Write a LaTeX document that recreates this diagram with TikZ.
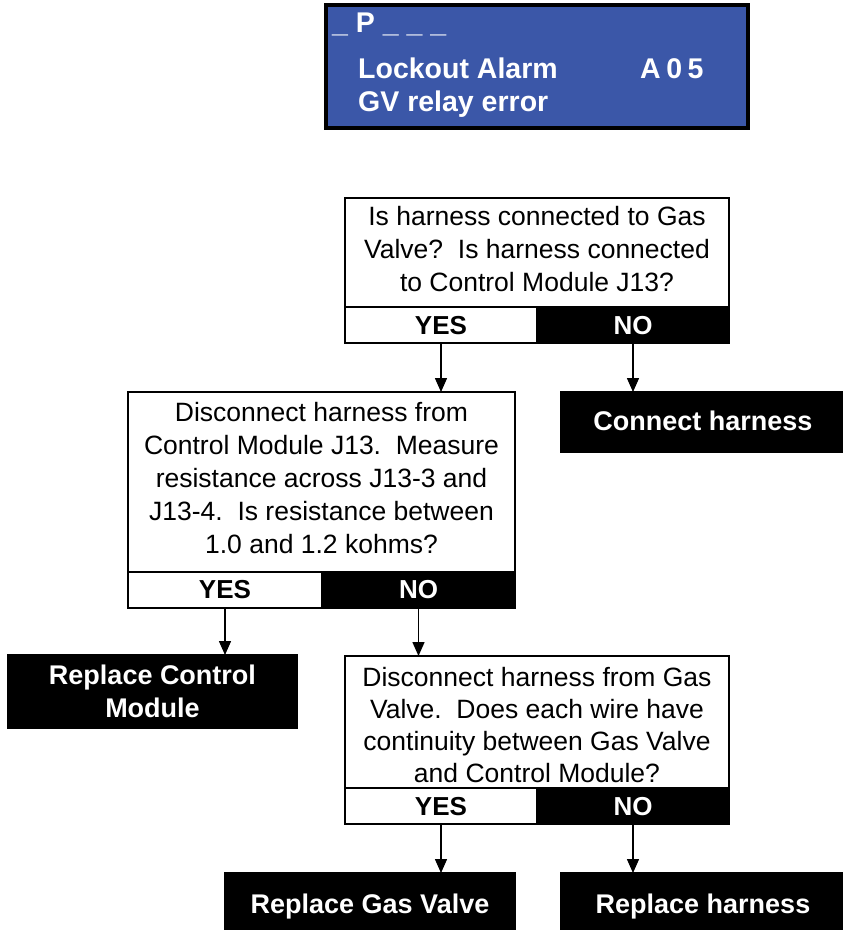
\documentclass[tikz,border=0pt]{standalone}
\usepackage{fontspec}
\setmainfont{Liberation Sans}
\usetikzlibrary{arrows.meta}
\definecolor{lcdblue}{RGB}{59,87,168}
\begin{document}
\begin{tikzpicture}[x=1pt,y=-1pt,
  frame/.style={draw=black,line width=1.3pt,inner sep=0pt,outer sep=0pt},
  cellyes/.style={frame,fill=white,minimum height=36pt},
  cellno/.style={frame,fill=black,minimum height=36pt},
  termbox/.style={frame,fill=black},
  qtext/.style={inner sep=0pt,anchor=north,align=center,font=\fontsize{26.5}{33}\selectfont},
  ynlabel/.style={inner sep=0pt,anchor=base,font=\fontsize{26}{30}\selectfont\bfseries},
  termtext/.style={inner sep=0pt,anchor=base,text=white,font=\fontsize{27}{33}\selectfont\bfseries},
  lcdtext/.style={inner sep=0pt,anchor=base west,text=white,font=\fontsize{28.5}{34}\selectfont\bfseries},
  arr/.style={line width=1.5pt,-{Triangle[length=14pt,width=12pt]}}]
\useasboundingbox (0,0) rectangle (844,930);

% LCD display
\node[draw=black,line width=3.5pt,fill=lcdblue,minimum width=422pt,minimum height=123pt,inner sep=0pt] (lcd) at (537,66.5) {};
\node[lcdtext] (lcd1) at (332,32) {\_ P \_ \_ \_};
\node[lcdtext] (lcd2) at (358,78) {Lockout Alarm};
\node[lcdtext] (lcd3) at (640,78) {A\hspace{5.5pt}0\hspace{5.5pt}5};
\node[lcdtext] (lcd4) at (358,111) {GV relay error};

% Question 1
\node[frame,fill=white,minimum width=384pt,minimum height=109pt] (q1) at (537,252.5) {};
\node[qtext] (q1t) at (537,205.5) {\rule{0pt}{20pt}Is harness connected to Gas\\Valve?\ \ Is harness connected\\to Control Module J13?};
\node[cellyes,minimum width=192pt] (yes1) at (441,325) {};
\node[cellno,minimum width=192pt] (no1) at (633,325) {};
\node[ynlabel] (yes1t) at (441,334) {YES};
\node[ynlabel,text=white] (no1t) at (633,334) {NO};

% Terminal: Connect harness
\node[termbox,minimum width=281pt,minimum height=60pt] (connect) at (701.5,422) {};
\node[termtext] (connectt) at (703,430) {Connect harness};

% Question 2
\node[frame,fill=white,minimum width=387pt,minimum height=180pt] (q2) at (321.5,482) {};
\node[qtext] (q2t) at (321.5,401.5) {\rule{0pt}{20pt}Disconnect harness from\\Control Module J13.\ \ Measure\\resistance across J13-3 and\\J13-4.\ \ Is resistance between\\1.0 and 1.2 kohms?};
\node[cellyes,minimum width=194pt] (yes2) at (225,590) {};
\node[cellno,minimum width=193pt] (no2) at (418.5,590) {};
\node[ynlabel] (yes2t) at (225,598) {YES};
\node[ynlabel,text=white] (no2t) at (418.5,598) {NO};

% Terminal: Replace Control Module
\node[termbox,minimum width=289pt,minimum height=73pt] (rcm) at (152.5,691.5) {};
\node[termtext,anchor=north,align=center] (rcmt) at (152.5,664) {\rule{0pt}{20pt}Replace Control\\Module};

% Question 3
\node[frame,fill=white,minimum width=384pt,minimum height=132pt] (q3) at (537,722) {};
\node[qtext,font=\fontsize{26.5}{32}\selectfont] (q3t) at (537,666) {\rule{0pt}{20pt}Disconnect harness from Gas\\Valve.\ \ Does each wire have\\continuity between Gas Valve\\and Control Module?};
\node[cellyes,minimum width=192pt] (yes3) at (441,806) {};
\node[cellno,minimum width=192pt] (no3) at (633,806) {};
\node[ynlabel] (yes3t) at (441,815) {YES};
\node[ynlabel,text=white] (no3t) at (633,815) {NO};

% Bottom terminals
\node[termbox,minimum width=290pt,minimum height=62pt] (rgv) at (370,904) {};
\node[termtext] (rgvt) at (370,913) {Replace Gas Valve};
\node[termbox,minimum width=281pt,minimum height=62pt] (rh) at (701.5,904) {};
\node[termtext] (rht) at (703,913) {Replace harness};

% Connectors
\draw[arr] (yes1) -- (q2.north -| yes1);
\draw[arr] (no1) -- (connect.north -| no1);
\draw[arr] (yes2) -- (rcm.north -| yes2);
\draw[arr] (no2) -- (q3.north -| no2);
\draw[arr] (yes3) -- (rgv.north -| yes3);
\draw[arr] (no3) -- (rh.north -| no3);
\end{tikzpicture}
\end{document}
